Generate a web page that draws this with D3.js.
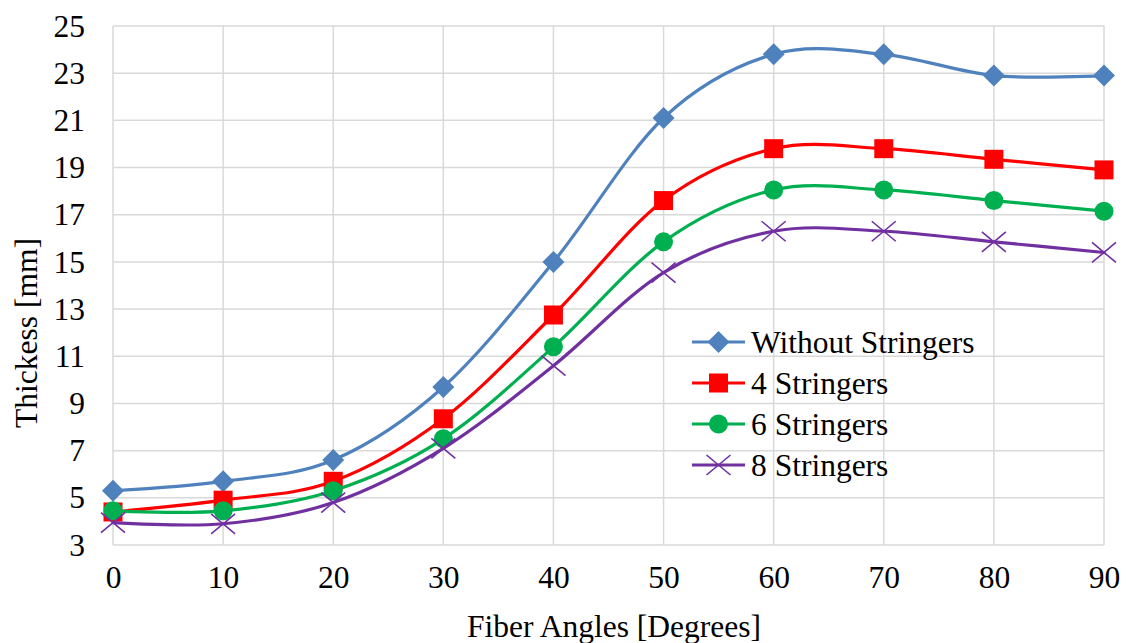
<!DOCTYPE html>
<html><head><meta charset="utf-8">
<script src="https://cdn.jsdelivr.net/npm/d3@7"></script>
<style>body{margin:0;background:#fff;} svg{display:block;} text{font-family:"Liberation Serif","Times New Roman",Times,serif !important;}</style>
</head><body>
<svg id="c" width="1129" height="643" font-family="Liberation Serif"></svg>
<script>
const angles = [0,10,20,30,40,50,60,70,80,90];
const withoutStringers = [5.3,5.7,6.6,9.7,15.0,21.1,23.8,23.8,22.9,22.9];
const stringers4 = [4.4,4.9,5.7,8.35,12.75,17.6,19.8,19.8,19.35,18.9];
const stringers6 = [4.45,4.45,5.3,7.5,11.4,15.85,18.05,18.05,17.6,17.15];
const stringers8 = [3.95,3.9,4.8,7.1,10.6,14.55,16.3,16.3,15.85,15.4];
const yTicks = [3,5,7,9,11,13,15,17,19,21,23,25];
const seriesNames = ["Without Stringers","4 Stringers","6 Stringers","8 Stringers"];
const seriesColors = ["#4f81bd","#ff0000","#00b050","#7030a0"];
const seriesMarkers = ["diamond","square","circle","x"];
const seriesValues = [withoutStringers, stringers4, stringers6, stringers8];

const FONT = '"Liberation Serif", "Times New Roman", Times, serif';
const FS = 31.5;
const svg = d3.select("#c");
const x = d3.scaleLinear().domain([0,90]).range([113,1104]);
const y = d3.scaleLinear().domain([3,25]).range([545,26]);

function styleText(sel){
  sel.attr("font-family","Liberation Serif").style("font-family",FONT,"important")
     .style("font-size",FS+"px").attr("fill","#000");
}

// gridlines
const g = svg.append("g");
g.selectAll(".hg").data(yTicks).enter().append("line")
  .attr("x1",x(0)).attr("x2",x(90)).attr("y1",d=>y(d)).attr("y2",d=>y(d))
  .attr("stroke","#d9d9d9").attr("stroke-width",1.5);
g.selectAll(".vg").data(angles).enter().append("line")
  .attr("x1",d=>x(d)).attr("x2",d=>x(d)).attr("y1",y(3)).attr("y2",y(25))
  .attr("stroke","#d9d9d9").attr("stroke-width",1.5);

// axes
const yAxis = d3.axisLeft(y).tickValues(yTicks).tickSize(0).tickPadding(28);
const ya = svg.append("g").attr("transform",`translate(${x(0)},0)`).call(yAxis);
ya.attr("font-family","Liberation Serif");
ya.select(".domain").remove();
ya.selectAll("text").call(styleText);

const xAxis = d3.axisBottom(x).tickValues(angles).tickSize(0).tickPadding(21);
const xa = svg.append("g").attr("transform",`translate(0,${y(3)})`).call(xAxis);
xa.attr("font-family","Liberation Serif");
xa.select(".domain").remove();
xa.selectAll("text").call(styleText);

svg.append("text").attr("x",614).attr("y",637).attr("text-anchor","middle")
  .text("Fiber Angles [Degrees]").call(styleText);
svg.append("text").attr("transform","translate(37,333) rotate(-90)").attr("text-anchor","middle")
  .text("Thickess [mm]").call(styleText);

function marker(sel, type, color){
  if(type==="diamond"){
    sel.append("path").attr("d","M0,-11L11,0L0,11L-11,0Z").attr("fill",color);
  } else if(type==="square"){
    sel.append("rect").attr("x",-9.5).attr("y",-9.5).attr("width",19).attr("height",19).attr("fill",color);
  } else if(type==="circle"){
    sel.append("circle").attr("r",9.5).attr("fill",color);
  } else {
    sel.append("path").attr("d","M-12,-10L12,10M-12,10L12,-10").attr("stroke",color).attr("stroke-width",1.6).attr("fill","none");
  }
}

const line = d3.line().x((d,i)=>x(angles[i])).y(d=>y(d)).curve(d3.curveCatmullRom.alpha(0));
seriesValues.forEach((vals,k)=>{
  const sg = svg.append("g");
  sg.append("path").datum(vals).attr("d",line).attr("fill","none")
    .attr("stroke",seriesColors[k]).attr("stroke-width",3.2).attr("stroke-linecap","round");
  sg.selectAll(".m").data(vals).enter().append("g")
    .attr("transform",(d,i)=>`translate(${x(angles[i])},${y(d)})`)
    .each(function(){ marker(d3.select(this), seriesMarkers[k], seriesColors[k]); });
});

// legend
const legY = [342,383,424,465];
seriesNames.forEach((name,k)=>{
  const lg = svg.append("g").attr("transform",`translate(0,${legY[k]})`);
  lg.append("line").attr("x1",692).attr("x2",745).attr("y1",0).attr("y2",0)
    .attr("stroke",seriesColors[k]).attr("stroke-width",3.2);
  const mg = lg.append("g").attr("transform","translate(718.5,0)");
  marker(mg, seriesMarkers[k], seriesColors[k]);
  lg.append("text").attr("x",751).attr("y",11).text(name).call(styleText);
});
</script>
</body></html>
